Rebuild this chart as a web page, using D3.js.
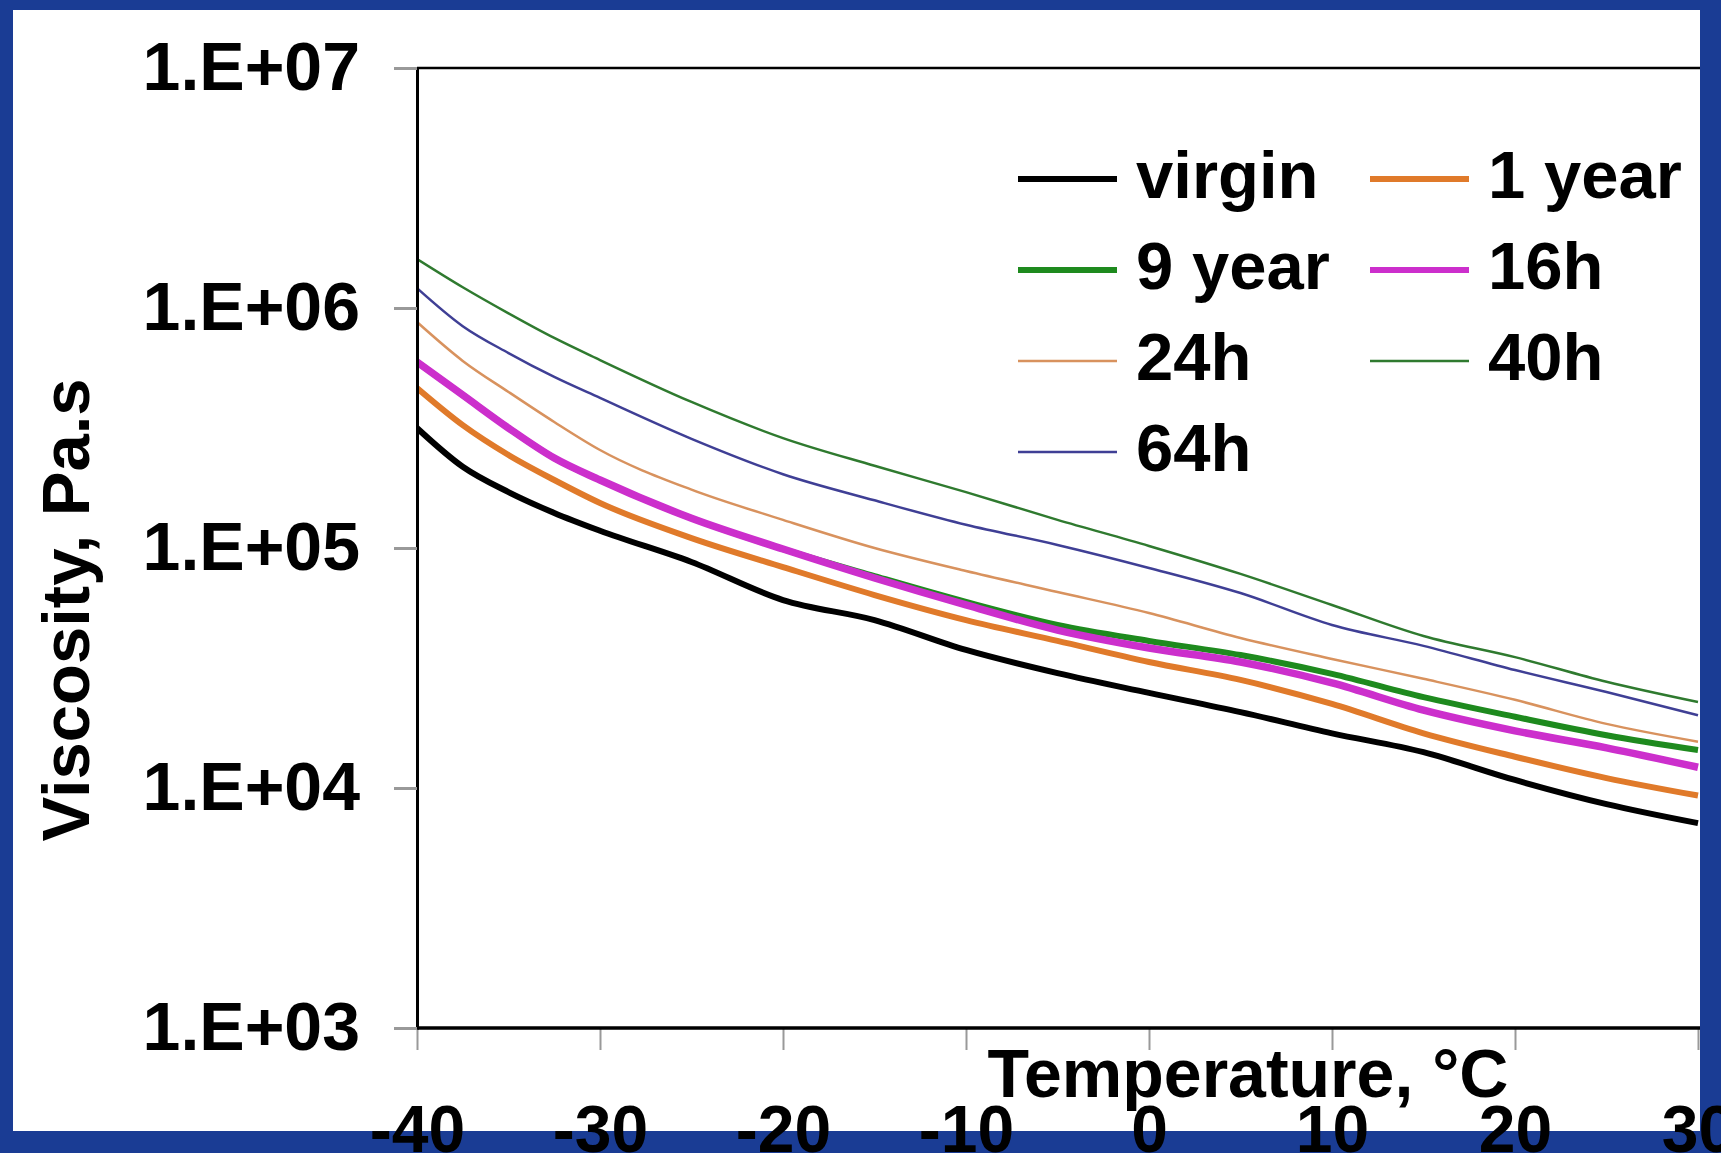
<!DOCTYPE html>
<html>
<head>
<meta charset="utf-8">
<script src="https://cdn.jsdelivr.net/npm/d3@7"></script>
<style>
  html, body { margin: 0; padding: 0; background: #1a3c94; }
  svg { display: block; }
  text { font-family: "Liberation Sans", Arial, sans-serif; font-weight: bold; fill: #000; }
</style>
</head>
<body>
<div class="chart__wrapper"></div>
<script>
// temperature, °C
const temps = [-40, -37.5, -35, -32.5, -30, -25, -20, -15, -10, -5, 0, 5, 10, 15, 20, 25, 30];

// viscosity, Pa.s
const virgin = [3.16e5, 2.18e5, 1.71e5, 1.40e5, 1.18e5, 8.74e4, 6.07e4, 5.01e4, 3.76e4, 3.01e4, 2.49e4, 2.07e4, 1.69e4, 1.41e4, 1.08e4, 8.57e3, 7.14e3];
const year1 = [4.64e5, 3.25e5, 2.44e5, 1.92e5, 1.54e5, 1.10e5, 8.33e4, 6.37e4, 5.01e4, 4.10e4, 3.35e4, 2.82e4, 2.24e4, 1.69e4, 1.35e4, 1.10e4, 9.3e3];
const year9 = [5.96e5, 4.34e5, 3.16e5, 2.37e5, 1.92e5, 1.33e5, 9.9e4, 7.64e4, 5.96e4, 4.78e4, 4.10e4, 3.58e4, 2.99e4, 2.39e4, 1.98e4, 1.66e4, 1.44e4];
const h16 = [5.96e5, 4.34e5, 3.16e5, 2.37e5, 1.92e5, 1.33e5, 9.9e4, 7.5e4, 5.79e4, 4.55e4, 3.83e4, 3.35e4, 2.74e4, 2.11e4, 1.73e4, 1.47e4, 1.22e4];
const h24 = [8.74e5, 6.02e5, 4.47e5, 3.35e5, 2.56e5, 1.75e5, 1.31e5, 1.0e5, 8.02e4, 6.56e4, 5.36e4, 4.22e4, 3.45e4, 2.85e4, 2.33e4, 1.85e4, 1.56e4];
const h40 = [1.60e6, 1.22e6, 9.5e5, 7.5e5, 6.07e5, 4.06e5, 2.87e5, 2.20e5, 1.71e5, 1.31e5, 1.02e5, 7.8e4, 5.79e4, 4.30e4, 3.51e4, 2.77e4, 2.28e4];
const h64 = [1.21e6, 8.4e5, 6.49e5, 5.16e5, 4.22e5, 2.85e5, 2.03e5, 1.58e5, 1.25e5, 1.03e5, 8.26e4, 6.49e4, 4.78e4, 3.91e4, 3.10e4, 2.51e4, 2.01e4];

const seriesNames = ["virgin", "1 year", "9 year", "16h", "24h", "40h", "64h"];
const yTicks = [1e3, 1e4, 1e5, 1e6, 1e7];
const xTicks = [-40, -30, -20, -10, 0, 10, 20, 30];

const series = [
  { name: "virgin", values: virgin, color: "#000000", width: 6 },
  { name: "1 year", values: year1, color: "#e07a2a", width: 6 },
  { name: "9 year", values: year9, color: "#1e8a1e", width: 6 },
  { name: "16h", values: h16, color: "#cc2fcc", width: 7.5 },
  { name: "24h", values: h24, color: "#d8925e", width: 2.5 },
  { name: "40h", values: h40, color: "#2f7a2f", width: 2.5 },
  { name: "64h", values: h64, color: "#3f3f95", width: 2.5 },
];

const svgWidth = 1721;
const svgHeight = 1153;
const margin = { top: 68, right: 23, bottom: 125, left: 417 };
const height = svgHeight - margin.top - margin.bottom;
const plotRight = 1700 - margin.left; // plot is cut by the blue frame

const root = d3
  .select(".chart__wrapper")
  .append("svg")
  .attr("width", svgWidth)
  .attr("height", svgHeight);

// white panel inside the blue frame
root
  .append("rect")
  .attr("x", 13)
  .attr("y", 10)
  .attr("width", 1700 - 13)
  .attr("height", 1131 - 10)
  .attr("fill", "#fff");

const svg = root.append("g").attr("transform", `translate(${margin.left},${margin.top})`);

const x = d3.scaleLinear().domain([-40, 30]).range([0, 1281]);
const y = d3.scaleLog().domain([1e3, 1e7]).range([height, 0]);

root
  .append("clipPath")
  .attr("id", "plot-clip")
  .append("rect")
  .attr("x", 0)
  .attr("y", 0)
  .attr("width", plotRight)
  .attr("height", height);

// top frame line
svg
  .append("line")
  .attr("x1", 0)
  .attr("x2", plotRight)
  .attr("y1", 0)
  .attr("y2", 0)
  .attr("stroke", "#000")
  .attr("stroke-width", 2.5);

const line = d3
  .line()
  .x((d, i) => x(temps[i]))
  .y((d) => y(d))
  .curve(d3.curveMonotoneX);

svg
  .append("g")
  .attr("clip-path", "url(#plot-clip)")
  .selectAll(".series")
  .data(series)
  .enter()
  .append("path")
  .attr("class", "series")
  .attr("fill", "none")
  .attr("stroke", (d) => d.color)
  .attr("stroke-width", (d) => d.width)
  .attr("stroke-linejoin", "round")
  .attr("d", (d) => line(d.values));

// axes
const yAxis = svg
  .append("g")
  .attr("class", "y-axis")
  .call(
    d3
      .axisLeft(y)
      .tickValues(yTicks)
      .tickSize(23)
      .tickPadding(34)
      .tickFormat((d) => "1.E+0" + Math.round(Math.log10(d)))
  );
yAxis.selectAll("path").attr("stroke", "#000").attr("stroke-width", 3);
yAxis.selectAll("line").attr("stroke", "#999").attr("stroke-width", 3);
yAxis
  .selectAll("text")
  .style("font-size", "68px")
  .style("font-family", '"Liberation Sans", Arial, sans-serif')
  .style("font-weight", "bold")
  .attr("fill", "#000");

const xAxis = svg
  .append("g")
  .attr("class", "x-axis")
  .attr("transform", `translate(0,${height})`)
  .call(
    d3
      .axisBottom(x)
      .tickValues(xTicks)
      .tickSize(22)
      .tickPadding(0)
      .tickSizeOuter(0)
      .tickFormat((d) => String(d))
  );
xAxis.select("path").remove();
xAxis.selectAll("line").attr("stroke", "#999").attr("stroke-width", 2);
xAxis
  .selectAll("text")
  .attr("y", 124)
  .attr("dy", 0)
  .style("font-size", "66px")
  .style("font-family", '"Liberation Sans", Arial, sans-serif')
  .style("font-weight", "bold")
  .attr("fill", "#000");

svg
  .append("line")
  .attr("x1", 0)
  .attr("x2", plotRight)
  .attr("y1", height)
  .attr("y2", height)
  .attr("stroke", "#000")
  .attr("stroke-width", 3.5);

// axis titles
root
  .append("text")
  .attr("x", 1248)
  .attr("y", 1097)
  .attr("text-anchor", "middle")
  .style("font-size", "68px")
  .text("Temperature, °C");

root
  .append("text")
  .attr("transform", "translate(89,610) rotate(-90)")
  .attr("text-anchor", "middle")
  .style("font-size", "67px")
  .text("Viscosity, Pa.s");

// legend
const legendCols = [1018, 1370];
const legend = root
  .selectAll(".legend")
  .data(series)
  .enter()
  .append("g")
  .attr("class", "legend")
  .attr("transform", (d, i) => `translate(${legendCols[i % 2]},${198 + Math.floor(i / 2) * 91})`);

legend
  .append("line")
  .attr("x1", 0)
  .attr("x2", 99)
  .attr("y1", -19)
  .attr("y2", -19)
  .attr("stroke", (d) => d.color)
  .attr("stroke-width", (d) => Math.min(d.width, 6));

legend
  .append("text")
  .attr("x", 118)
  .attr("y", 0)
  .style("font-size", "67px")
  .text((d, i) => seriesNames[i]);
</script>
</body>
</html>
